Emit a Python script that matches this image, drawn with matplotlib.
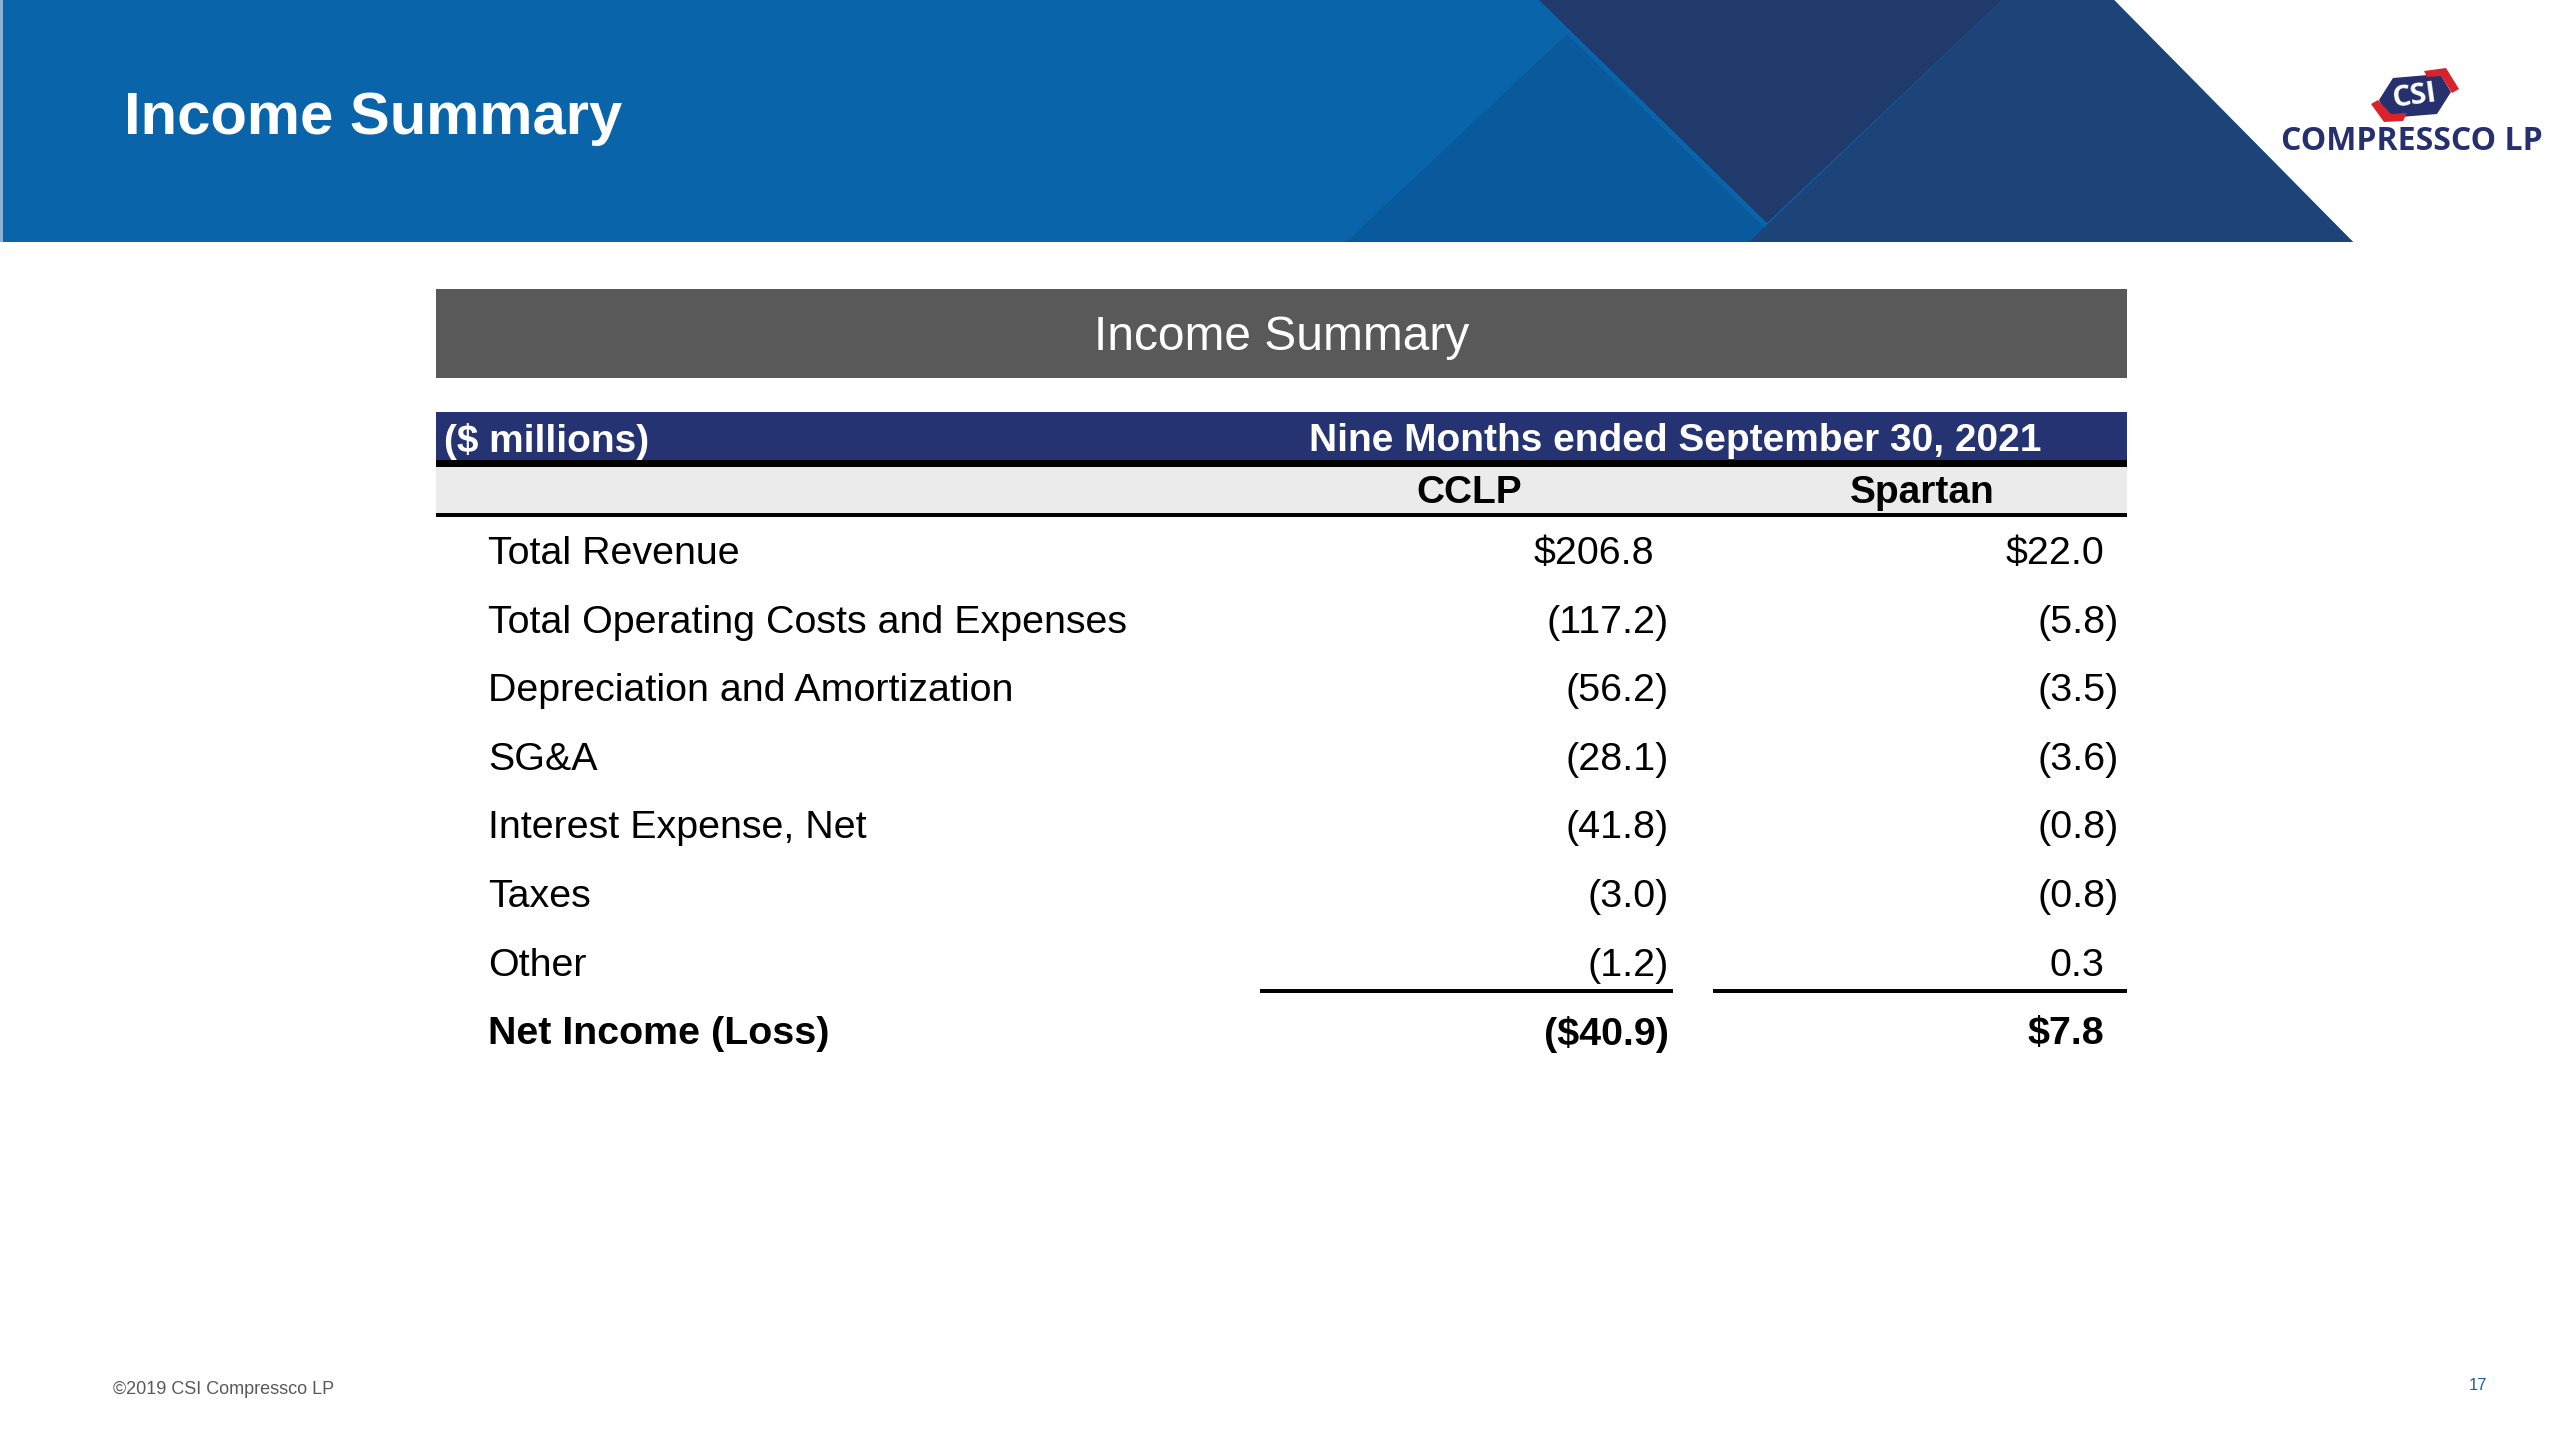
import matplotlib
matplotlib.use("Agg")
import matplotlib.pyplot as plt
from matplotlib.patches import Rectangle, Polygon

plt.rcParams['font.family'] = ['Liberation Sans', 'DejaVu Sans']

# ---------------- data ----------------
slide_title = "Income Summary"
table_title = "Income Summary"
unit_label = "($ millions)"
period_label = "Nine Months ended September 30, 2021"
columns = ["CCLP", "Spartan"]
row_labels = ["Total Revenue", "Total Operating Costs and Expenses",
              "Depreciation and Amortization", "SG&A", "Interest Expense, Net",
              "Taxes", "Other", "Net Income (Loss)"]
cclp_values = [206.8, -117.2, -56.2, -28.1, -41.8, -3.0, -1.2, -40.9]
spartan_values = [22.0, -5.8, -3.5, -3.6, -0.8, -0.8, 0.3, 7.8]
dollar_rows = [0, 7]
bold_rows = [7]
footer_text = "\u00a92019 CSI Compressco LP"
page_number = "17"


def fmt(v, dollar):
    s = f"{abs(v):.1f}"
    if dollar:
        s = "$" + s
    return f"({s})" if v < 0 else s


W, H = 2560, 1440
fig = plt.figure(figsize=(25.6, 14.4), dpi=100)
ax = fig.add_axes([0, 0, 1, 1])
ax.set_xlim(0, W)
ax.set_ylim(H, 0)
ax.axis('off')

# ---------------- banner ----------------
bh = 242
ax.add_patch(Polygon([(0, 0), (2114, 0), (2353, bh), (0, bh)], closed=True,
                     facecolor='#0A64AA', edgecolor='none'))
ax.add_patch(Polygon([(1346, bh), (1567, 34), (1779, bh)], closed=True,
                     facecolor='#095A9D', edgecolor='none'))
ax.add_patch(Polygon([(1539, 0), (2002, 0), (1767, 223)], closed=True,
                     facecolor='#213A6C', edgecolor='none'))
ax.add_patch(Polygon([(2002, 0), (2114, 0), (2353, bh), (1749, bh)], closed=True,
                     facecolor='#1C4479', edgecolor='none'))
ax.add_patch(Rectangle((0, 0), 3, bh, facecolor='#8DB0D6', edgecolor='none'))
ax.text(124, 119, slide_title, color='white', fontsize=43, fontweight='bold',
        ha='left', va='center')

# ---------------- logo ----------------
ax.add_patch(Polygon([(2379, 100), (2393, 78), (2440, 74), (2451, 92),
                      (2437, 114), (2388, 118)], closed=True,
                     facecolor='#26306E', edgecolor='none'))
ax.add_patch(Polygon([(2424, 71), (2446, 68), (2459, 89), (2452, 93),
                      (2441, 76), (2427, 77)], closed=True,
                     facecolor='#D8232A', edgecolor='none'))
ax.add_patch(Polygon([(2371, 104), (2378, 100), (2391, 114), (2407, 113),
                      (2403, 121), (2384, 122)], closed=True,
                     facecolor='#D8232A', edgecolor='none'))
ax.text(2414, 96, "CSI", color='white', fontsize=21, fontweight='bold',
        ha='center', va='center', rotation=8, family=['Open Sans', 'DejaVu Sans'])
ax.text(2412, 141, "COMPRESSCO LP", color='#26306E', fontsize=23,
        fontweight='bold', ha='center', va='center',
        family=['Open Sans', 'DejaVu Sans'])

# ---------------- table ----------------
tx0, tx1 = 436, 2127
ax.add_patch(Rectangle((tx0, 289), tx1 - tx0, 89, facecolor='#595959', edgecolor='none'))
ax.text((tx0 + tx1) / 2, 337, table_title, color='white', fontsize=34.5,
        ha='center', va='center')

ax.add_patch(Rectangle((tx0, 412), tx1 - tx0, 48, facecolor='#253372', edgecolor='none'))
ax.text(444, 441, unit_label, color='white', fontsize=28, fontweight='bold',
        ha='left', va='center')
ax.text(1675, 441, period_label, color='white', fontsize=28, fontweight='bold',
        ha='center', va='center')
ax.add_patch(Rectangle((tx0, 460), tx1 - tx0, 7, facecolor='black', edgecolor='none'))
ax.add_patch(Rectangle((tx0, 467), tx1 - tx0, 46, facecolor='#EBEBEB', edgecolor='none'))
ax.add_patch(Rectangle((tx0, 513), tx1 - tx0, 4, facecolor='black', edgecolor='none'))

col_centers = [1469, 1922]
for c, xc in zip(columns, col_centers):
    ax.text(xc, 493, c, color='black', fontsize=28, fontweight='bold',
            ha='center', va='center')

row_y0, row_dy = 554, 68.6
col_right_paren = [1669, 2119]
col_right_plain = [1654, 2104]
for i, lab in enumerate(row_labels):
    y = row_y0 + i * row_dy
    wt = 'bold' if i in bold_rows else 'normal'
    ax.text(488, y, lab, color='black', fontsize=28.4, fontweight=wt,
            ha='left', va='center')
    for j, vals in enumerate([cclp_values, spartan_values]):
        v = vals[i]
        s = fmt(v, i in dollar_rows)
        xr = col_right_paren[j] if s.endswith(")") else col_right_plain[j]
        ax.text(xr, y, s, color='black', fontsize=28.4, fontweight=wt,
                ha='right', va='center')

# subtotal rules above net income
ax.add_patch(Rectangle((1260, 989), 413, 4, facecolor='black', edgecolor='none'))
ax.add_patch(Rectangle((1713, 989), 414, 4, facecolor='black', edgecolor='none'))

# ---------------- footer ----------------
ax.text(113, 1390, footer_text, color='#595959', fontsize=13, ha='left', va='center')
ax.text(2478, 1386, page_number, color='#1F5FA8', fontsize=12, ha='center', va='center')

fig.savefig("out.png", dpi=100, facecolor='white')
